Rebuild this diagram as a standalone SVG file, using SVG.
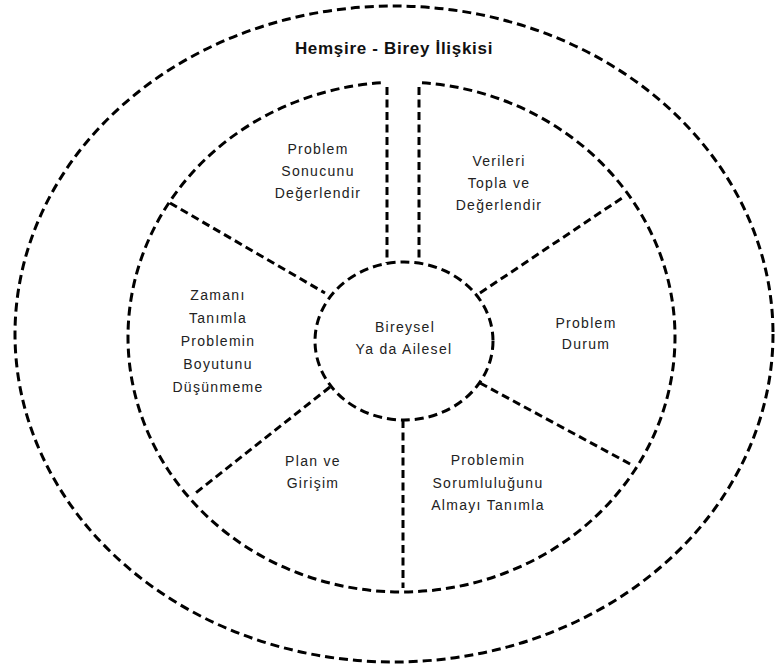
<svg xmlns="http://www.w3.org/2000/svg" width="776" height="668" viewBox="0 0 776 668">
<style>
.d{fill:none;stroke:#000;stroke-width:3;stroke-dasharray:9 5}
.l{fill:none;stroke:#000;stroke-width:3;stroke-dasharray:8 4.5}
.t{font-family:"Liberation Sans",Arial,sans-serif;font-size:14px;letter-spacing:1.3px;fill:#222;text-anchor:middle}
.h{font-family:"Liberation Sans",Arial,sans-serif;font-size:17px;font-weight:bold;letter-spacing:0.7px;fill:#111;text-anchor:middle}
</style>
<rect width="776" height="668" fill="#fff"/>
<g id="outer">
<ellipse class="d" cx="394" cy="334" rx="379" ry="328"/>
<text class="h" x="394" y="54">Hemşire - Birey İlişkisi</text>
</g>
<g id="middle">
<path class="d" d="M 422 82.7 A 273.5 255 0 1 1 381 82.7"/>
</g>
<g id="connectors">
<line class="l" x1="387" y1="87" x2="387" y2="263"/>
<line class="l" x1="419" y1="87" x2="419" y2="263"/>
<line class="l" x1="170" y1="203" x2="325" y2="293"/>
<line class="l" x1="480" y1="293" x2="622" y2="198"/>
<line class="l" x1="330" y1="387" x2="193" y2="495"/>
<line class="l" x1="480" y1="383" x2="632" y2="465"/>
<line class="l" x1="403" y1="420" x2="403" y2="588"/>
</g>
<g id="center">
<ellipse class="d" cx="404" cy="341" rx="89" ry="79" fill="#fff"/>
<text class="t" x="405" y="332">Bireysel</text>
<text class="t" x="404" y="354">Ya da Ailesel</text>
</g>
<g id="sector-sonuc">
<text class="t" x="318" y="154">Problem</text>
<text class="t" x="318" y="176">Sonucunu</text>
<text class="t" x="318" y="198">Değerlendir</text>
</g>
<g id="sector-veri">
<text class="t" x="499" y="166">Verileri</text>
<text class="t" x="499" y="188">Topla ve</text>
<text class="t" x="499" y="210">Değerlendir</text>
</g>
<g id="sector-durum">
<text class="t" x="586" y="328">Problem</text>
<text class="t" x="586" y="349">Durum</text>
</g>
<g id="sector-sorumluluk">
<text class="t" x="488" y="465">Problemin</text>
<text class="t" x="488" y="488">Sorumluluğunu</text>
<text class="t" x="488" y="510">Almayı Tanımla</text>
</g>
<g id="sector-plan">
<text class="t" x="313" y="466">Plan ve</text>
<text class="t" x="313" y="488">Girişim</text>
</g>
<g id="sector-zaman">
<text class="t" x="218" y="300">Zamanı</text>
<text class="t" x="218" y="323">Tanımla</text>
<text class="t" x="218" y="346">Problemin</text>
<text class="t" x="218" y="369">Boyutunu</text>
<text class="t" x="218" y="392">Düşünmeme</text>
</g>
</svg>
